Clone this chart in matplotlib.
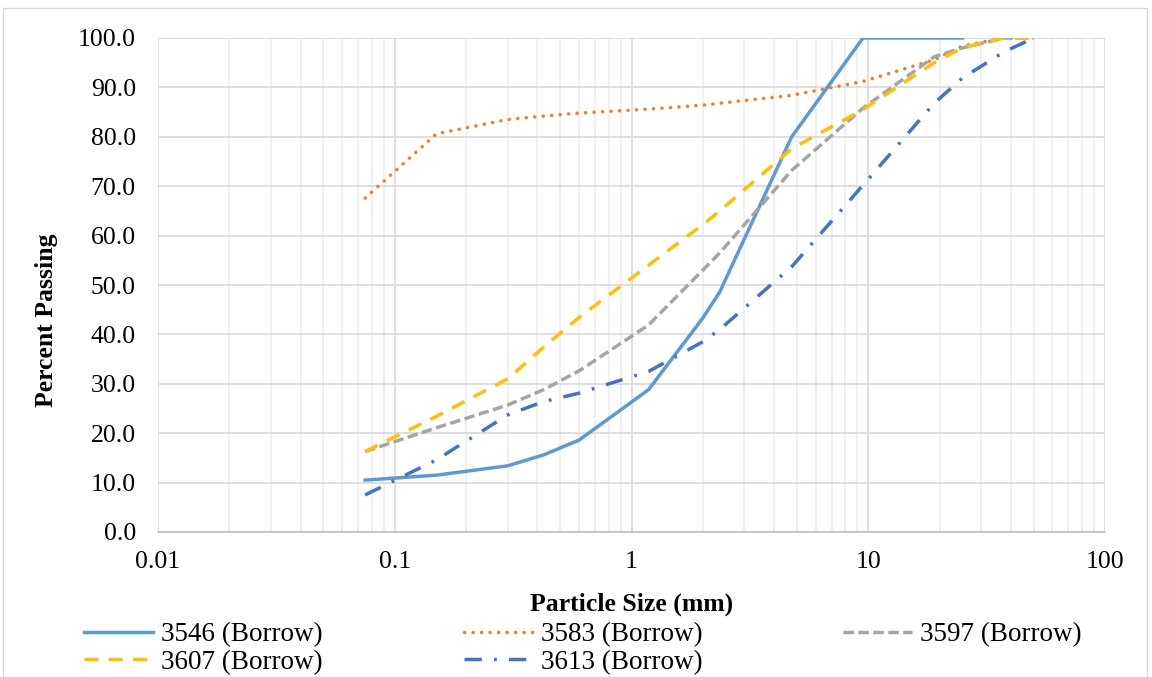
import matplotlib
matplotlib.use("Agg")
import matplotlib.pyplot as plt
from matplotlib.patches import Rectangle
from matplotlib.ticker import FixedLocator, LogLocator, NullFormatter

plt.rcParams['font.family'] = ['Liberation Serif', 'DejaVu Serif']

sizes = [0.075, 0.15, 0.3, 0.425, 0.6, 1.18, 2.0, 2.36, 4.75, 9.5, 19, 25, 37.5, 50]
s3546 = [10.5, 11.5, 13.4, 15.6, 18.6, 28.8, 43.3, 48.6, 80.0, 100, 100, 100]
s3583 = [67.6, 80.6, 83.5, 84.2, 84.8, 85.6, 86.4, 86.8, 88.4, 91.2, 95.6, 98.4, 100, 100]
s3597 = [16.3, 21.1, 25.7, 28.8, 32.6, 41.9, 53.0, 56.5, 73.2, 85.8, 96.2, 98.0, 100, 100]
s3607 = [16.3, 23.4, 31.0, 37.4, 43.4, 54.0, 62.2, 65.0, 77.6, 85.5, 95.0, 98.0, 100, 100]
s3613 = [7.5, 14.6, 23.7, 26.4, 28.1, 32.5, 38.5, 41.0, 53.7, 70.2, 86.8, 91.9, 97.2, 100]
labels = ["3546 (Borrow)", "3583 (Borrow)", "3597 (Borrow)", "3607 (Borrow)", "3613 (Borrow)"]

fig = plt.figure(figsize=(11.52, 6.77), dpi=100)
ax = fig.add_axes([158/1152, 1-532/677, (1105-158)/1152, (532-38)/677])

lw = 2.5
h1, = ax.plot(sizes[:len(s3546)], s3546, color='#5B9BD5', lw=lw, solid_joinstyle='round', label=labels[0])
h2, = ax.plot(sizes, s3583, color='#ED7D31', lw=lw, linestyle=(0, (0.05, 2.4)), dash_capstyle='round', label=labels[1])
h3, = ax.plot(sizes, s3597, color='#A5A5A5', lw=lw, linestyle=(0, (3, 1.3)), label=labels[2])
h4, = ax.plot(sizes, s3607, color='#FFC000', lw=lw, linestyle=(0, (4, 3)), label=labels[3])
h5, = ax.plot(sizes, s3613, color='#4472C4', lw=lw, linestyle=(0, (5, 3.5, 0.8, 3.5)), label=labels[4])

ax.set_xscale('log')
ax.set_xlim(0.01, 100)
ax.set_ylim(0, 100)
ax.xaxis.set_major_locator(FixedLocator([0.01, 0.1, 1, 10, 100]))
ax.set_xticklabels(["0.01", "0.1", "1", "10", "100"])
ax.xaxis.set_minor_locator(LogLocator(base=10, subs=range(2, 10), numticks=20))
ax.xaxis.set_minor_formatter(NullFormatter())
ax.set_yticks(range(0, 101, 10))
ax.set_yticklabels([f"{v:.1f}" for v in range(0, 101, 10)])

ax.grid(True, which='major', axis='both', color='#D9D9D9', lw=1.2)
ax.grid(True, which='minor', axis='x', color='#EDEDED', lw=1.2)
ax.set_axisbelow(True)
for s in ['top', 'left', 'right']:
    ax.spines[s].set_visible(False)
ax.spines['bottom'].set_color('#BFBFBF')
ax.spines['bottom'].set_linewidth(1.2)
ax.tick_params(which='both', length=0)
ax.tick_params(axis='x', labelsize=18.5, pad=14)
ax.tick_params(axis='y', labelsize=18.5, pad=16)

ax.set_xlabel("Particle Size (mm)", fontsize=18.5, fontweight='bold', labelpad=14)
fig.text(47/1152, 1-320/677, "Percent Passing", rotation=90, fontsize=18.5, fontweight='bold',
         ha='center', va='center')

handles = [h1, h4, h2, h5, h3]
leg = fig.legend(handles, [h.get_label() for h in handles], ncol=3, loc='upper left',
                 bbox_to_anchor=(84/1152, 1-622/677), frameon=False, fontsize=19.5,
                 handlelength=2.55, handletextpad=0.3, columnspacing=5.2,
                 labelspacing=0.1, borderaxespad=0, borderpad=0)

fig.patches.append(Rectangle((3/1152, 0), (1147-3)/1152, 1-8/677, transform=fig.transFigure,
                             fill=False, edgecolor='#D9D9D9', lw=1.0))

fig.savefig("out.png", dpi=100)
